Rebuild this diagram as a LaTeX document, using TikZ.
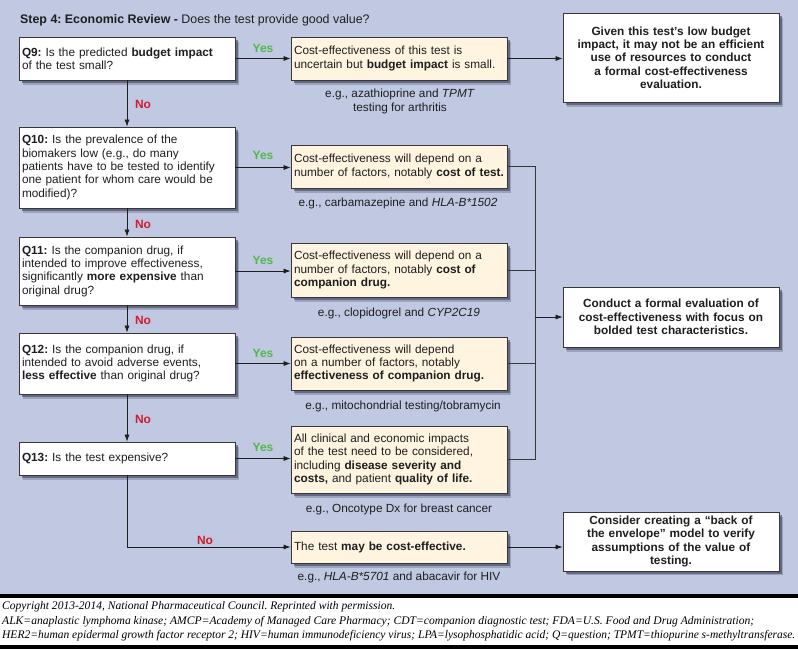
\documentclass[tikz,border=0pt]{standalone}
\usepackage{fontspec}
\setmainfont{Liberation Sans}
\newfontfamily\footfont{Liberation Serif}
\usetikzlibrary{arrows.meta,shadows,calc}
\definecolor{bgc}{RGB}{193,200,226}
\definecolor{cream}{RGB}{255,244,224}
\definecolor{yesc}{RGB}{80,185,72}
\definecolor{noc}{RGB}{205,30,45}
\definecolor{shad}{RGB}{45,50,75}
\definecolor{edge}{RGB}{55,55,55}
\definecolor{txt}{RGB}{30,30,30}
\frenchspacing
\tikzset{
 box/.style={draw=edge, line width=0.8pt, fill=white, minimum width=216pt, text width=210pt, inner xsep=3pt, inner ysep=4pt,
   font=\fontsize{11.8}{13.3}\selectfont, text=txt,
   drop shadow={shadow xshift=4pt, shadow yshift=-4.5pt, fill=shad, opacity=0.25},
   drop shadow={shadow xshift=2.5pt, shadow yshift=-3pt, fill=shad, opacity=0.5}},
 qbox/.style={box, align=left},
 ybox/.style={box, fill=cream, align=left},
 rbox/.style={box, align=center, font=\fontsize{11.8}{13.3}\selectfont\bfseries},
 arr/.style={-{Latex[length=7pt,width=5pt]}, line width=0.7pt, draw=txt},
 ln/.style={line width=0.7pt, draw=edge},
 yeslab/.style={font=\fontsize{12}{14}\selectfont\bfseries, text=yesc},
 nolab/.style={font=\fontsize{12}{14}\selectfont\bfseries, text=noc},
 eg/.style={font=\fontsize{11.8}{14}\selectfont, align=center, text=txt, inner sep=0pt},
 foot/.style={font=\footfont\itshape\fontsize{11.6}{13}\selectfont, anchor=base west, inner sep=0pt, text=black},
}
\begin{document}
\begin{tikzpicture}[x=1pt,y=-1pt]
\useasboundingbox (0,0) rectangle (798,649);
\fill[bgc] (0,0) rectangle (798,594);
\fill[black] (0,594) rectangle (798,597.5);
\fill[white] (0,597.5) rectangle (798,645);
\fill[black] (0,645) rectangle (798,649);

\node[anchor=base west, inner sep=0pt, font=\fontsize{12.4}{14}\selectfont, text=txt] (title) at (20,23)
  {\textbf{Step 4: Economic Review -} Does the test provide good value?};

% question boxes
\node[qbox, minimum height=43pt] (q9) at (127,58.5)
  {\textbf{Q9:} Is the predicted \textbf{budget impact}\\of the test small?};
\node[qbox, minimum height=81pt] (q10) at (127,167.5)
  {\textbf{Q10:} Is the prevalence of the\\biomakers low (e.g., do many\\patients have to be tested to identify\\one patient for whom care would be\\modified)?};
\node[qbox, minimum height=68pt] (q11) at (127,271)
  {\textbf{Q11:} Is the companion drug, if\\intended to improve effectiveness,\\significantly \textbf{more expensive} than\\original drug?};
\node[qbox, minimum height=61pt] (q12) at (127,363.5)
  {\textbf{Q12:} Is the companion drug, if\\intended to avoid adverse events,\\\textbf{less effective} than original drug?};
\node[qbox, minimum height=33pt] (q13) at (127,458.5)
  {\textbf{Q13:} Is the test expensive?};

% outcome boxes
\node[ybox, minimum height=43pt] (y9) at (399,58.5)
  {Cost-effectiveness of this test is\\uncertain but \textbf{budget impact} is small.};
\node[ybox, minimum height=43pt] (y10) at (399,166.5)
  {Cost-effectiveness will depend on a\\number of factors, notably \textbf{cost of test.}};
\node[ybox, minimum height=54pt] (y11) at (399,270)
  {Cost-effectiveness will depend on a\\number of factors, notably \textbf{cost of}\\\textbf{companion drug.}};
\node[ybox, minimum height=53pt] (y12) at (399,363.5)
  {Cost-effectiveness will depend\\on a number of factors, notably\\\textbf{effectiveness of companion drug.}};
\node[ybox, minimum height=67pt] (y13) at (399,459.5)
  {All clinical and economic impacts\\of the test need to be considered,\\including \textbf{disease severity and}\\\textbf{costs,} and patient \textbf{quality of life.}};
\node[ybox, minimum height=32pt] (n13) at (399,547)
  {The test \textbf{may be cost-effective.}};

% right boxes
\node[rbox, minimum height=89pt] (r1) at (671,57.5)
  {Given this test’s low budget\\impact, it may not be an efficient\\use of resources to conduct\\a formal cost-effectiveness\\evaluation.};
\node[rbox, minimum height=60pt] (r2) at (671,317)
  {Conduct a formal evaluation of\\cost-effectiveness with focus on\\bolded test characteristics.};
\node[rbox, minimum height=57pt] (r3) at (671,541.5)
  {Consider creating a “back of\\the envelope” model to verify\\assumptions of the value of\\testing.};

% examples
\node[eg] (e9) at (400,101) {e.g., azathioprine and \textit{TPMT}\\testing for arthritis};
\node[eg] (e10) at (398,203) {e.g., carbamazepine and \textit{HLA-B*1502}};
\node[eg] (e11) at (399,313) {e.g., clopidogrel and \textit{CYP2C19}};
\node[eg] (e12) at (403,406) {e.g., mitochondrial testing/tobramycin};
\node[eg] (e13) at (399,509) {e.g., Oncotype Dx for breast cancer};
\node[eg] (e14) at (399,577) {e.g., \textit{HLA-B*5701} and abacavir for HIV};

% connectors
\draw[arr] (q9.east) -- (q9.east -| y9.west);
\draw[arr] (q10.east) -- (q10.east -| y10.west);
\draw[arr] (q11.east) -- (q11.east -| y11.west);
\draw[arr] (q12.east) -- (q12.east -| y12.west);
\draw[arr] (q13.east) -- (q13.east -| y13.west);
\draw[arr] (q9.south) -- (q10.north);
\draw[arr] (q10.south) -- (q11.north);
\draw[arr] (q11.south) -- (q12.north);
\draw[arr] (q12.south) -- (q13.north);
\draw[arr] (q13.south) |- (n13.west);
\draw[arr] (y9.east) -- (y9.east -| r1.west);
\draw[arr] (n13.east) -- (n13.east -| r3.west);

\coordinate (bx) at (535,0);
\draw[ln] (y10.east) -- (y10.east -| bx) -- (y13.east -| bx) -- (y13.east);
\draw[ln] (y11.east) -- (y11.east -| bx);
\draw[ln] (y12.east) -- (y12.east -| bx);
\draw[arr] (r2.west -| bx) -- (r2.west);

% labels
\node[yeslab] (ly9) at (263,48) {Yes};
\node[yeslab] (ly10) at (263,155) {Yes};
\node[yeslab] (ly11) at (263,260) {Yes};
\node[yeslab] (ly12) at (263,353) {Yes};
\node[yeslab] (ly13) at (263,447) {Yes};
\node[nolab] (ln9) at (143,104) {No};
\node[nolab] (ln10) at (143,224) {No};
\node[nolab] (ln11) at (143,320) {No};
\node[nolab] (ln12) at (143,419) {No};
\node[nolab] (ln13) at (205,540) {No};

% footer
\node[foot] (f1) at (2,609) {\resizebox{393pt}{\height}{Copyright 2013-2014, National Pharmaceutical Council. Reprinted with permission.}};
\node[foot] (f2) at (2,624) {\resizebox{752pt}{\height}{ALK=anaplastic lymphoma kinase; AMCP=Academy of Managed Care Pharmacy; CDT=companion diagnostic test; FDA=U.S. Food and Drug Administration;}};
\node[foot] (f3) at (2,638) {\resizebox{793pt}{\height}{HER2=human epidermal growth factor receptor 2; HIV=human immunodeficiency virus; LPA=lysophosphatidic acid; Q=question; TPMT=thiopurine s-methyltransferase.}};
\end{tikzpicture}
\end{document}
